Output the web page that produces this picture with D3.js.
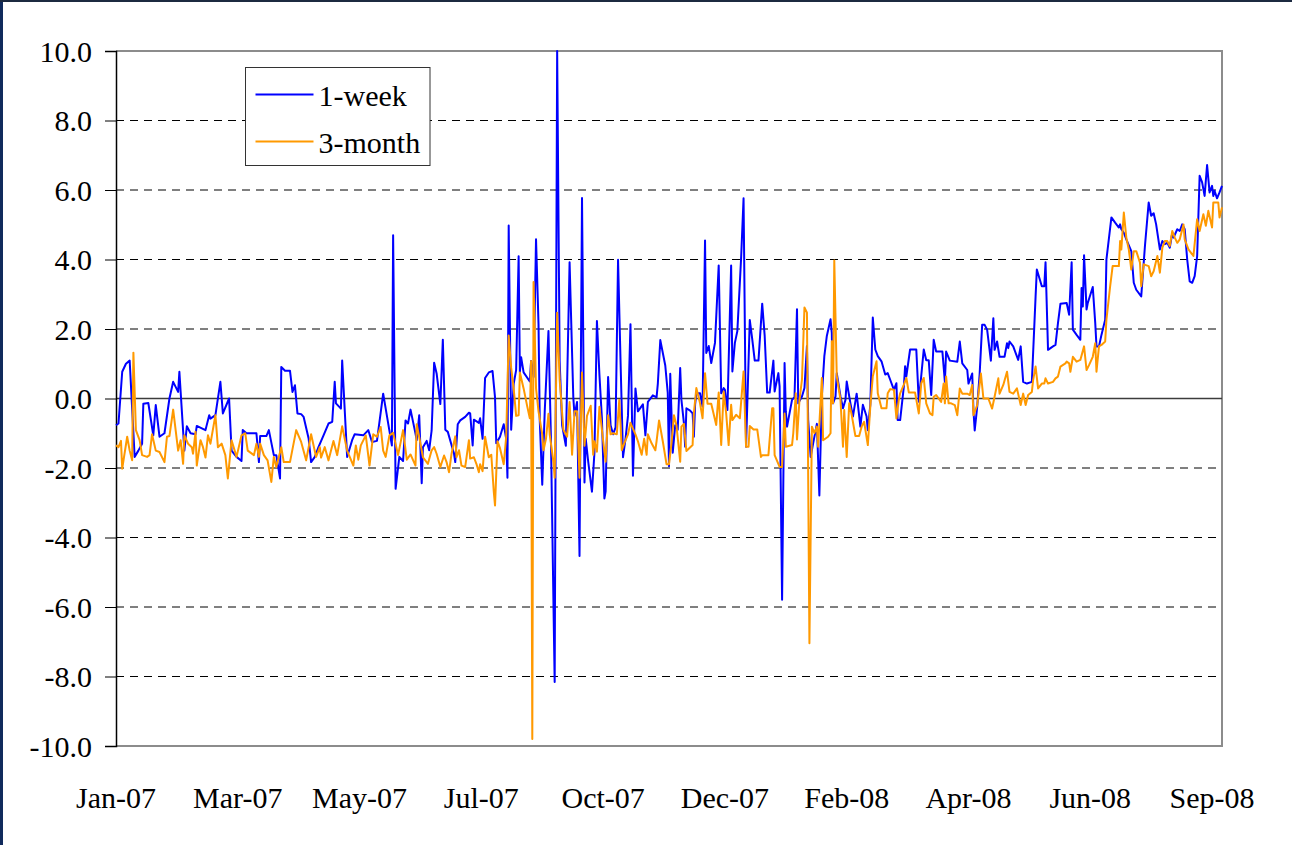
<!DOCTYPE html>
<html>
<head>
<meta charset="utf-8">
<script src="https://cdn.jsdelivr.net/npm/d3@7"></script>
<style>
  body { margin: 0; background: #fff; }
  svg text { font-family: "Liberation Serif", "Times New Roman", serif; fill: #000; }
</style>
</head>
<body>
<div id="chart"></div>
<script>
(function() {

  var oneWeek = [[0,-0.77],[2,-0.72],[5,0.77],[8,1.0],[11,1.09],[15,-1.68],[18,-1.5],[21,-1.3],[22,-0.15],[26,-0.13],[30,-1.06],[32,-0.19],[35,-1.1],[39,-1.0],[43,0],[46,0.48],[50,0.19],[51,0.77],[55,-1.5],[57,-0.8],[60,-1.0],[64,-1.03],[65,-0.79],[72,-0.91],[75,-0.48],[76,-0.58],[80,-0.48],[84,0.48],[86,-0.43],[91,0],[93,-1.5],[97,-1.68],[101,-1.8],[102,-0.91],[105,-1.0],[113,-1.0],[115,-1.83],[116,-1.08],[121,-1.08],[123,-0.91],[127,-1.63],[129,-1.63],[132,-2.3],[133,0.91],[136,0.8],[140,0.8],[142,0.19],[144,0.38],[146,-0.43],[149,-0.45],[151,-0.53],[155,-1.15],[157,-1.83],[160,-1.68],[163,-1.39],[167,-1.06],[171,-0.72],[174,-0.67],[176,0.48],[177,-0.14],[181,-0.29],[182,1.09],[186,-1.68],[190,-1.2],[192,-1.03],[199,-1.06],[203,-0.91],[206,-1.25],[210,-1.22],[215,0.14],[222,-1.35],[223,4.7],[225,-2.6],[228,-1.68],[231,-1.8],[233,-0.63],[235,-0.72],[237,-0.32],[241,-1.01],[242,-1.2],[244,-0.48],[246,-2.44],[247,-1.4],[250,-1.22],[252,-1.49],[254,-0.92],[256,1.03],[258,0.72],[261,-0.16],[263,1.69],[265,-0.9],[267,-0.96],[272,-1.59],[273,-1.83],[275,-0.74],[277,-0.63],[281,-0.53],[284,-0.41],[285,-0.43],[287,-1.35],[288,-0.61],[292,-0.7],[293,-0.57],[295,-1.16],[297,0.59],[300,0.75],[303,0.79],[305,0.03],[306,-1.29],[309,-1.1],[312,-0.74],[314,-1.16],[315,-2.28],[316,4.98],[318,-0.9],[320,0.42],[322,0.82],[324,4.09],[325,0.75],[326,1.19],[328,0.75],[333,0.49],[334,1.08],[336,0.62],[338,4.58],[340,2.14],[341,-0.63],[343,-2.48],[345,-0.37],[348,1.94],[350,-1.16],[353,-8.16],[355,10.0],[357,1.08],[359,-0.77],[362,-1.36],[365,3.92],[368,0.03],[369,-0.5],[371,-0.1],[373,-4.53],[375,5.77],[377,-2.42],[378,-1.16],[380,-1.82],[383,-2.68],[385,-1.56],[387,2.23],[389,0.69],[391,-0.57],[393,-2.88],[394,-2.68],[396,0.62],[398,-0.77],[400,-1.03],[402,-0.83],[404,3.99],[406,1.08],[408,-1.69],[410,-1.16],[412,-0.5],[414,2.14],[416,-2.22],[418,0.29],[420,-0.37],[424,-0.17],[426,-1.06],[428,-0.1],[432,0.09],[435,0.03],[436,0.42],[438,1.68],[442,0.95],[444,0.16],[445,-1.95],[446,0.71],[448,-1.56],[450,-0.77],[452,-0.9],[454,0.88],[455,-0.04],[457,-0.71],[458,-1.39],[459,-0.28],[462,-0.35],[464,-0.43],[465,-1.1],[466,-0.18],[467,0.15],[470,0.15],[472,-0.23],[474,4.55],[475,1.31],[477,1.51],[479,1.02],[482,1.6],[485,3.83],[487,0.15],[489,0.3],[490,0.25],[492,-0.33],[495,3.83],[496,0.78],[498,1.6],[500,1.94],[503,4.02],[505,5.76],[507,-1.39],[510,2.26],[512,1.7],[514,1.09],[517,1.09],[520,2.73],[522,1.8],[524,0.17],[526,0.17],[529,1.09],[530,0.2],[533,0.73],[534,0.35],[536,-5.79],[538,1.02],[539,-0.38],[540,-0.81],[544,-0.04],[546,0.04],[548,2.57],[549,-0.14],[552,0.06],[554,0.3],[556,1.51],[557,-0.62],[559,-1.68],[561,-1.29],[564,-0.73],[566,-2.79],[568,0.06],[570,1.22],[572,1.8],[575,2.28],[576,1.89],[577,-0.14],[579,0.06],[580,0.73],[583,0.06],[585,-0.28],[587,-0.04],[588,0.49],[591,-0.14],[593,-0.52],[596,0.14],[599,-0.81],[601,-0.18],[604,-0.52],[605,-0.91],[607,-0.18],[609,2.33],[611,1.41],[613,1.22],[616,1.07],[619,0.69],[621,0.73],[623,0.54],[626,0.25],[628,0.44],[629,-0.62],[631,-0.62],[634,0.35],[635,0.93],[636,0.64],[639,1.41],[644,1.41],[646,-0.09],[650,1.41],[652,1.1],[654,1.1],[656,0.1],[658,1.69],[660,1.35],[665,1.35],[667,0.48],[668,1.35],[671,1.09],[677,1.06],[679,1.64],[681,1.01],[685,0.82],[686,0.43],[689,0.72],[690,-0.34],[691,-0.92],[693,-0.24],[695,0.72],[697,2.12],[699,2.12],[701,1.98],[704,1.09],[706,2.31],[707,1.4],[709,1.64],[711,1.2],[715,1.2],[717,1.59],[718,1.45],[719,1.64],[722,1.5],[726,1.11],[728,1.5],[730,0.48],[733,0.43],[737,0.48],[740,2.94],[741,3.71],[745,3.23],[747,3.23],[748,3.92],[750,1.4],[754,1.5],[756,1.54],[758,2.17],[760,2.73],[765,2.75],[767,2.41],[769,3.92],[770,1.98],[773,1.83],[776,1.69],[777,3.18],[778,2.65],[779,4.12],[781,2.56],[782,2.75],[786,3.21],[788,2.17],[789,1.5],[791,1.5],[793,1.83],[796,2.27],[797,4.0],[801,5.21],[804,5.06],[807,4.92],[808,5.01],[809,4.87],[811,4.77],[813,4.58],[817,4.24],[819,3.33],[821,3.13],[825,2.94],[828,4.39],[831,5.64],[833,5.26],[835,5.33],[837,5.01],[840,4.29],[842,4.53],[844,4.44],[846,4.48],[848,4.34],[850,4.77],[851,4.63],[854,4.87],[856,4.82],[858,5.01],[860,4.87],[862,4.0],[864,3.37],[866,3.33],[868,3.52],[870,4.1],[872,6.41],[874,6.22],[876,5.83],[878,6.72],[880,5.93],[882,6.12],[883,5.83],[884,5.98],[886,5.76],[888,5.93],[890,6.12]];

  var threeMonth = [[0,-1.35],[2,-1.4],[4,-1.22],[5,-2.02],[9,-1.1],[11,-1.5],[13,-1.78],[14,1.32],[16,-0.91],[19,-1.2],[21,-1.63],[25,-1.68],[27,-1.63],[29,-1.03],[32,-1.5],[35,-1.54],[39,-1.83],[41,-1.1],[43,-1.08],[46,-0.32],[50,-1.5],[52,-1.2],[54,-1.88],[55,-1.06],[58,-1.3],[61,-1.4],[62,-1.59],[64,-0.96],[65,-1.93],[68,-1.2],[70,-1.4],[72,-1.7],[74,-1.06],[76,-1.3],[80,-0.48],[82,-1.4],[85,-1.3],[88,-1.63],[90,-2.3],[93,-1.2],[97,-1.68],[101,-1.06],[104,-1.0],[106,-1.5],[111,-1.63],[113,-1.3],[115,-1.68],[116,-1.3],[119,-1.63],[122,-1.78],[125,-2.4],[127,-1.68],[129,-1.97],[133,-1.4],[135,-1.83],[140,-1.83],[145,-0.91],[149,-1.25],[153,-1.78],[157,-1.03],[161,-1.68],[164,-1.4],[165,-1.7],[168,-1.4],[171,-1.78],[175,-1.22],[178,-1.63],[182,-0.8],[186,-1.5],[191,-1.93],[193,-1.35],[195,-1.76],[197,-1.35],[201,-1.06],[204,-1.93],[207,-1.03],[210,-1.1],[213,-0.82],[215,-1.5],[217,-1.68],[220,-1.06],[223,-0.99],[227,-1.63],[231,-0.91],[234,-1.76],[237,-1.61],[241,-1.93],[242,-0.74],[245,-1.3],[247,-1.69],[251,-1.88],[254,-1.49],[256,-1.4],[258,-1.59],[261,-1.97],[264,-1.64],[266,-1.83],[268,-2.12],[270,-1.59],[273,-1.09],[274,-1.69],[276,-1.49],[278,-1.93],[281,-1.97],[284,-1.2],[285,-1.73],[288,-1.69],[290,-1.88],[292,-2.12],[293,-1.89],[295,-2.09],[297,-1.1],[300,-1.69],[302,-1.62],[304,-2.68],[305,-3.08],[307,-1.23],[309,-1.43],[312,-1.89],[314,-1.1],[316,1.81],[318,0.88],[320,0.29],[322,-0.5],[324,-0.48],[325,0.75],[328,0.29],[331,-0.24],[333,-0.57],[334,1.08],[335,-9.8],[336,3.35],[338,0.29],[340,-0.37],[343,-1.03],[344,-1.49],[346,-1.16],[348,-0.44],[349,-1.03],[352,-1.82],[353,-2.28],[355,2.47],[357,0.55],[360,-0.9],[363,-1.1],[365,-0.1],[367,-1.62],[369,-0.37],[371,-0.37],[373,-2.28],[375,0.75],[377,-1.36],[379,-0.5],[382,-0.21],[384,-1.62],[385,-1.23],[387,-1.53],[389,-0.24],[391,-0.9],[394,-1.82],[396,-0.48],[398,-1.03],[400,-1.0],[403,-1.03],[405,-0.04],[407,-1.49],[409,-1.29],[412,-1.03],[414,-0.7],[418,-1.03],[420,-1.23],[423,-1.62],[425,-1.16],[427,-1.62],[428,-1.03],[431,-1.29],[434,-1.49],[435,-1.23],[437,-0.63],[440,-1.23],[443,-1.89],[445,-1.89],[447,-1.29],[449,-0.48],[451,-0.77],[454,-1.82],[455,-0.81],[457,-0.73],[459,-1.51],[464,-1.34],[465,-0.43],[467,0.3],[470,-0.14],[472,-0.57],[474,0.73],[476,-0.15],[479,-0.15],[483,-0.76],[485,0.17],[487,-1.34],[489,0.2],[491,-0.43],[493,-1.34],[495,-0.18],[496,-0.62],[499,-0.47],[502,-0.57],[505,0.78],[507,-1.39],[509,-1.39],[510,-0.79],[513,-0.89],[516,-0.89],[519,-1.68],[520,-1.63],[525,-1.63],[528,-0.28],[529,-0.28],[530,-1.63],[534,-1.97],[536,-1.97],[538,-0.43],[539,-1.39],[544,-1.34],[545,-1.0],[547,0.15],[548,-1.18],[550,-0.04],[552,0.54],[554,2.62],[556,2.47],[558,-7.04],[560,-0.81],[562,-1.0],[564,-0.81],[565,-1.39],[568,0.59],[569,-1.2],[573,-1.1],[575,-1.0],[576,1.65],[577,-0.14],[578,3.97],[580,0.64],[583,-0.04],[585,-1.39],[586,-0.33],[588,-1.68],[590,-0.14],[592,-0.47],[595,-1.08],[598,-1.08],[600,-0.81],[602,-0.67],[605,-1.34],[607,-0.23],[609,0.64],[612,1.07],[613,0.15],[616,-0.28],[620,-0.28],[621,0.15],[623,0.27],[626,0.25],[628,-0.57],[630,-0.02],[631,0.15],[634,0.4],[636,0.59],[638,0.17],[643,0.17],[646,-0.43],[648,0.44],[650,0.59],[652,-0.14],[655,-0.43],[657,-0.48],[658,0.05],[660,0.1],[664,-0.1],[666,0.43],[667,-0.14],[668,0.63],[670,-0.14],[672,-0.14],[675,-0.19],[677,-0.48],[679,0.29],[681,0.14],[685,0.14],[687,0.1],[689,0.39],[690,-0.48],[693,-0.19],[696,0.72],[698,0],[702,0],[705,-0.29],[707,0.05],[710,0.58],[711,0.14],[714,0.39],[717,0.77],[719,0.19],[722,0.14],[725,0.29],[728,-0.19],[730,0.14],[732,-0.19],[734,0.1],[737,0.19],[738,0.53],[740,0.92],[742,0.29],[745,0.43],[747,0.43],[748,0.58],[750,0.43],[754,0.48],[756,0.58],[758,0.63],[760,0.92],[764,1.01],[765,1.06],[767,1.01],[768,0.77],[770,1.2],[773,1.06],[776,1.11],[779,1.5],[781,0.82],[783,0.96],[786,1.2],[788,1.59],[789,0.77],[791,1.5],[793,1.54],[796,1.64],[797,2.27],[800,3.23],[802,3.81],[807,3.81],[808,4.53],[809,4.29],[811,5.35],[813,4.63],[815,4.29],[817,3.71],[819,4.24],[821,4.24],[824,3.91],[825,3.23],[827,3.86],[831,3.81],[833,3.52],[835,3.66],[838,4.1],[840,3.62],[842,4.34],[844,4.53],[846,4.53],[848,4.39],[850,4.82],[852,4.63],[854,4.48],[856,4.58],[859,5.01],[860,4.58],[863,4.29],[866,4.15],[867,4.1],[870,5.16],[872,4.82],[875,5.3],[877,4.97],[879,5.4],[882,4.92],[883,5.64],[886,5.64],[887,5.64],[888,5.21],[890,5.5]];

  var seriesNames = ['1-week', '3-month'],
      seriesColors = ['#0000ff', '#ff9900'];

  var xLabels = ['Jan-07', 'Mar-07', 'May-07', 'Jul-07', 'Oct-07', 'Dec-07', 'Feb-08', 'Apr-08', 'Jun-08', 'Sep-08'],
      labelEvery = 98,
      lastObs = 890;

  var yTicks = [-10, -8, -6, -4, -2, 0, 2, 4, 6, 8, 10];

  var width = 1292, height = 845,
      left = 116, right = 1222, top = 51, bottom = 746,
      font = '"Liberation Serif", "Times New Roman", serif';

  var x = d3.scaleLinear().domain([0, lastObs]).range([left, right]);
  var y = d3.scaleLinear().domain([-10, 10]).range([bottom, top]);

  var svg = d3.select('#chart')
    .append('svg')
    .attr('width', width)
    .attr('height', height)
    .attr('font-family', font);

  svg.append('rect')
    .attr('width', width).attr('height', height)
    .attr('fill', '#fff');

  // dark frame at the left / top edge
  svg.append('rect').attr('x', 0).attr('y', 0).attr('width', 3).attr('height', height).attr('fill', '#102a5c');
  svg.append('rect').attr('x', 0).attr('y', 0).attr('width', width).attr('height', 2).attr('fill', '#1c2a40');

  // gridlines
  svg.selectAll('line.grid')
    .data(yTicks.filter(function(d) { return d !== 0 && Math.abs(d) !== 10; }))
    .enter().append('line')
    .attr('class', 'grid')
    .attr('x1', left).attr('x2', right)
    .attr('y1', function(d) { return y(d); })
    .attr('y2', function(d) { return y(d); })
    .attr('stroke', '#000')
    .attr('stroke-width', 1)
    .attr('stroke-dasharray', '8,6');

  // plot frame: top, right, bottom in grey
  svg.append('path')
    .attr('d', 'M' + left + ',' + y(10) + 'H' + right + 'V' + y(-10) + 'H' + left)
    .attr('fill', 'none')
    .attr('stroke', '#8c8c8c')
    .attr('stroke-width', 2);

  // zero line
  svg.append('line')
    .attr('x1', left).attr('x2', right)
    .attr('y1', y(0)).attr('y2', y(0))
    .attr('stroke', '#3c3c3c')
    .attr('stroke-width', 1.5);

  // y axis
  var yAxis = d3.axisLeft(y)
    .tickValues(yTicks)
    .tickSize(11)
    .tickPadding(13)
    .tickFormat(function(d) { return d.toFixed(1); });

  var ya = svg.append('g')
    .attr('transform', 'translate(' + left + ',0)')
    .call(yAxis)
    .attr('font-family', font);
  ya.select('.domain').attr('stroke', '#000').attr('stroke-width', 1.5);
  ya.selectAll('.tick line').attr('stroke', '#000');
  ya.selectAll('.tick text')
    .style('font-size', '30px')
    .style('font-family', font)
    .attr('dy', '0.34em');

  // x labels
  svg.selectAll('text.xlab')
    .data(xLabels)
    .enter().append('text')
    .attr('class', 'xlab')
    .attr('x', function(d, i) { return x(i * labelEvery); })
    .attr('y', 808)
    .attr('text-anchor', 'middle')
    .style('font-size', '30px')
    .text(function(d) { return d; });

  // series
  var line = d3.line()
    .x(function(d) { return x(d[0]); })
    .y(function(d) { return y(d[1]); });

  [oneWeek, threeMonth].forEach(function(s, i) {
    svg.append('path')
      .datum(s)
      .attr('d', line)
      .attr('fill', 'none')
      .attr('stroke', seriesColors[i])
      .attr('stroke-width', 2)
      .attr('stroke-linejoin', 'round');
  });

  // legend
  var lg = svg.append('g').attr('transform', 'translate(245.5,67.5)');
  lg.append('rect')
    .attr('width', 184.5).attr('height', 98)
    .attr('fill', '#fff')
    .attr('stroke', '#333')
    .attr('stroke-width', 1);

  seriesNames.forEach(function(name, i) {
    lg.append('line')
      .attr('x1', 10).attr('x2', 68)
      .attr('y1', 27 + i * 47).attr('y2', 27 + i * 47)
      .attr('stroke', seriesColors[i])
      .attr('stroke-width', 2);
    lg.append('text')
      .attr('x', 73)
      .attr('y', 38.5 + i * 47)
      .style('font-size', '30px')
      .text(name);
  });

})();
</script>
</body>
</html>
